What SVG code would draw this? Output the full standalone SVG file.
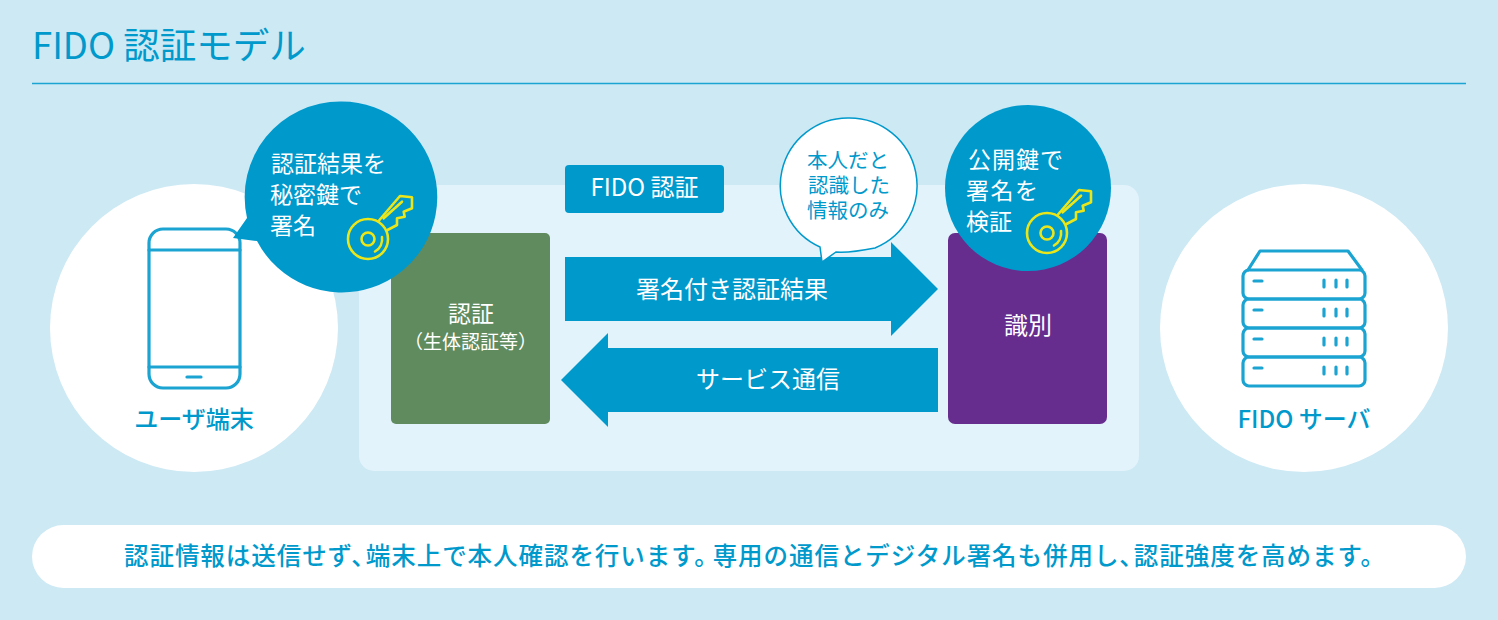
<svg xmlns="http://www.w3.org/2000/svg" width="1498" height="620" viewBox="0 0 1498 620">
<style>
text{font-family:"Noto Sans CJK JP","Noto Sans",sans-serif;font-weight:400}
.w{fill:#fff}.b{fill:#0099cc}
.m{text-anchor:middle}
.lbl{font-weight:500;font-size:24px}
.icon{fill:none;stroke:#1ba3d1;stroke-width:3.2;stroke-linejoin:round;stroke-linecap:round}
.keyl{fill:none;stroke:#ebe61a;stroke-width:2.6;stroke-linejoin:round;stroke-linecap:round}
</style>
<defs>
<g id="key" class="keyl">
<circle cx="0" cy="0" r="20"/>
<circle cx="0" cy="0" r="6.500"/>
<path d="M14-2A14.500 14.500 0 0 1 7 12.500"/>
<path d="M11-18.500L32-43L44-41.700V-30.700L35.700-27.300L36.700-22.300L29-20.700V-14L19.500-9"/>
<path d="M15.700-20.700L34-37.300"/>
</g>
<g id="unit"><rect x="1243" y="0" width="122" height="29" rx="6"/><path d="M1254 11H1262M1324 10V17M1336 10V17M1347 10V17"/></g>
</defs>
<rect width="1498" height="620" fill="#cce9f4"/>
<g id="title"><text x="32" y="59" font-size="36.500" class="b">FIDO 認証モデル</text><path d="M32 83.500H1466" stroke="#1ba3d1" stroke-width="1.600"/></g>
<rect id="panel" x="359" y="185" width="780" height="286" rx="15" fill="#e2f3fb"/>
<g id="user-device"><circle cx="194" cy="328" r="144" fill="#fff"/>
<g class="icon"><rect x="149" y="229" width="91" height="159" rx="14"/><path d="M149 250H240M149 367H240"/><path d="M187 377H201"/></g>
<text x="194" y="428" class="b m lbl">ユーザ端末</text></g>
<g id="fido-server"><circle cx="1304" cy="328" r="144" fill="#fff"/>
<g class="icon"><path d="M1248 270L1260 251H1348L1362 270"/><use href="#unit" y="270"/><use href="#unit" y="299"/><use href="#unit" y="328"/><use href="#unit" y="357"/></g>
<text x="1304" y="428" class="b m lbl">FIDO サーバ</text></g>
<g id="auth"><rect x="391" y="233" width="159" height="191" rx="5" fill="#5f8b5e"/>
<text x="471" y="322" font-size="23" class="w m">認証</text><text x="470.500" y="349" font-size="19" class="w m">（生体認証等）</text></g>
<g id="identify"><rect x="948" y="233" width="159" height="191" rx="7" fill="#662d8f"/>
<text x="1028" y="334" font-size="24" class="w m">識別</text></g>
<g id="fido-tag"><rect x="565" y="165" width="159" height="48" rx="4" class="b"/><text x="644.500" y="196" font-size="24" class="w m">FIDO 認証</text></g>
<g id="connectors">
<path id="arrow-sign" class="b" d="M565 257H891V242L938 289L891 336V321H565Z"/>
<path id="arrow-service" class="b" d="M938 348H608V333L561 380L608 427V412H938Z"/>
</g>
<text x="732" y="298" font-size="24" class="w m">署名付き認証結果</text>
<text x="768" y="388" font-size="24" class="w m">サービス通信</text>
<g id="bubble-sign"><path class="b" d="M341 101.500A95.500 95.500 0 1 1 257 241L233 238L247 218A95.500 95.500 0 0 1 341 101.500Z"/>
<text x="271" y="172" font-size="23" class="w">認証結果を</text><text x="270" y="203" font-size="23" class="w">秘密鍵で</text><text x="270" y="234" font-size="23" class="w">署名</text>
<use href="#key" x="368" y="239"/></g>
<g id="bubble-verify"><circle cx="1028" cy="188" r="83" class="b"/>
<text x="968" y="168" font-size="23" letter-spacing="1" class="w">公開鍵で</text><text x="966" y="199" font-size="23" letter-spacing="1.500" class="w">署名を</text><text x="966" y="230" font-size="23" class="w">検証</text>
<use href="#key" x="1047" y="233"/></g>
<g id="bubble-self"><path d="M849 118A67.500 67.500 0 0 1 875 248Q850 253 836 252L822 262L820 247A67.500 67.500 0 0 1 849 118Z" fill="#fff" stroke="#0099cc" stroke-width="1.500"/>
<text x="848" y="168" font-size="20.500" class="b m">本人だと</text><text x="849" y="193" font-size="20.500" class="b m">認識した</text><text x="848" y="218" font-size="20.500" class="b m">情報のみ</text></g>
<g id="note"><rect x="32" y="525" width="1434" height="63" rx="31.500" fill="#fff"/>
<text x="124" y="565" font-size="24.500" letter-spacing="0.950" class="b" style="font-weight:500">認証情報は送信せず、<tspan dx="-11">端末上で本人確認を行います。</tspan><tspan dx="-7">専用の通信とデジタル署名も併用し、</tspan><tspan dx="-11">認証強度を高めます。</tspan></text></g>
</svg>
